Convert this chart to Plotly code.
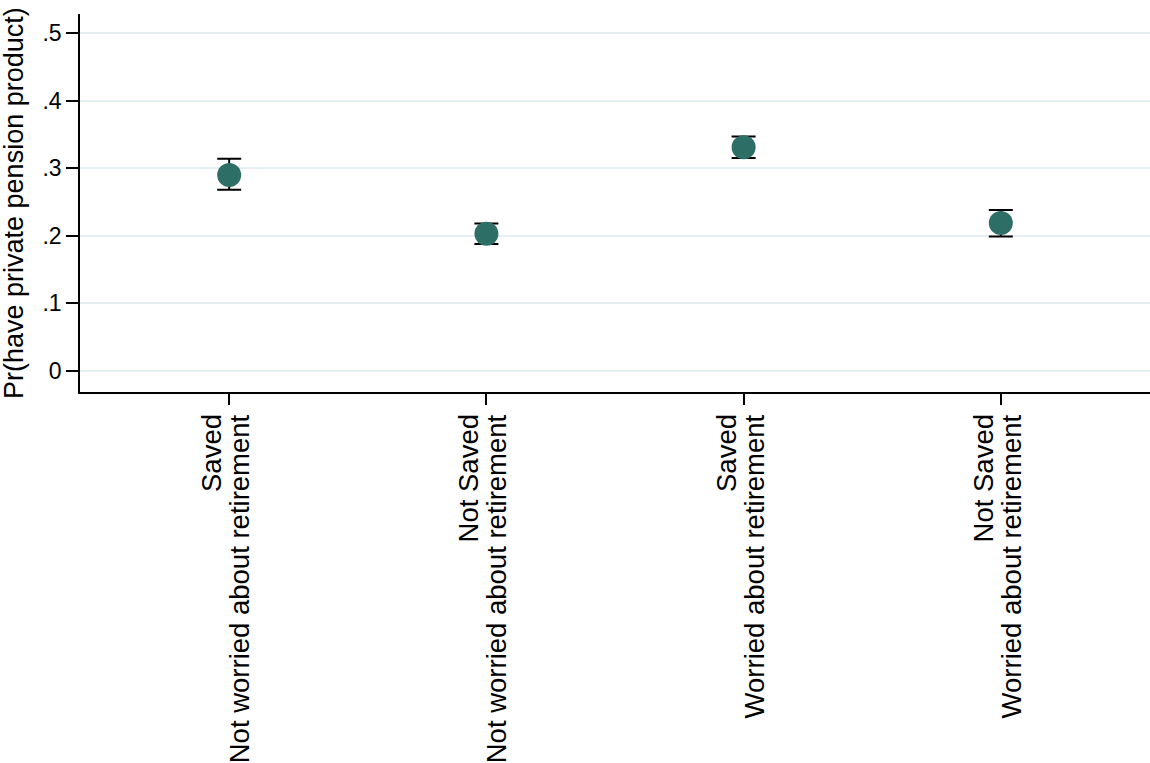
import plotly.graph_objects as go

line1 = ["Saved", "Not Saved", "Saved", "Not Saved"]
line2 = ["Not worried about retirement", "Not worried about retirement",
         "Worried about retirement", "Worried about retirement"]
positions = [1, 2, 3, 4]
estimates = [0.290, 0.203, 0.331, 0.219]
ci_low = [0.268, 0.188, 0.315, 0.199]
ci_high = [0.314, 0.218, 0.347, 0.238]

ytick_vals = [0, 0.1, 0.2, 0.3, 0.4, 0.5]
ytick_text = ["0", ".1", ".2", ".3", ".4", ".5"]
y_title = "Pr(have private pension product)"

err_plus = [h - e for h, e in zip(ci_high, estimates)]
err_minus = [e - l for e, l in zip(estimates, ci_low)]

font = "Liberation Sans, Arial, sans-serif"

fig = go.Figure()
# invisible helper trace so the second (label) axis is drawn
fig.add_trace(go.Scatter(
    x=positions, y=estimates, mode="markers", xaxis="x2",
    marker=dict(size=1, opacity=0), hoverinfo="skip", showlegend=False,
))
fig.add_trace(go.Scatter(
    x=positions, y=estimates, mode="markers",
    marker=dict(size=24, color="#2d6e66"),
    error_y=dict(type="data", symmetric=False, array=err_plus, arrayminus=err_minus,
                 color="black", thickness=2, width=12),
    showlegend=False, cliponaxis=False,
))

xr = [0.42, 4.58]
fig.update_layout(
    width=1150, height=763,
    margin=dict(l=80, r=0, t=14, b=371, autoexpand=False),
    paper_bgcolor="white", plot_bgcolor="white",
    font=dict(family=font, color="black"),
    xaxis=dict(
        range=xr, tickvals=positions, ticktext=line2,
        tickangle=-90, tickfont=dict(size=27.5, family=font, color="black"),
        ticks="outside", ticklen=11, tickwidth=1.5, tickcolor="black",
        ticklabelshift=11, ticklabelstandoff=-1,
        showline=True, linecolor="black", linewidth=1.5,
        showgrid=False, zeroline=False, automargin=False,
    ),
    xaxis2=dict(
        range=xr, overlaying="x", anchor="y", side="bottom",
        tickvals=positions, ticktext=line1,
        tickangle=-90, tickfont=dict(size=27.5, family=font, color="black"),
        ticks="outside", ticklen=11, tickwidth=1, tickcolor="rgba(0,0,0,0)",
        ticklabelshift=-17, ticklabelstandoff=-1,
        showline=False, showgrid=False, zeroline=False, automargin=False,
    ),
    yaxis=dict(
        range=[-0.031, 0.528], tickvals=ytick_vals, ticktext=ytick_text,
        tickfont=dict(size=23, family=font, color="black"),
        ticks="outside", ticklen=12, tickwidth=1.5, tickcolor="black",
        showline=True, linecolor="black", linewidth=1.5,
        showgrid=True, gridcolor="#e6eff1", gridwidth=1.5,
        zeroline=False, automargin=False,
    ),
    annotations=[dict(
        text=y_title, textangle=-90, showarrow=False,
        xref="paper", yref="paper", x=0, y=0.5,
        xanchor="center", yanchor="middle", xshift=-66,
        font=dict(size=27, family=font, color="black"),
    )],
)

fig.write_html("out.html", post_script="document.body.style.margin='0';",
               config={"displayModeBar": False})
